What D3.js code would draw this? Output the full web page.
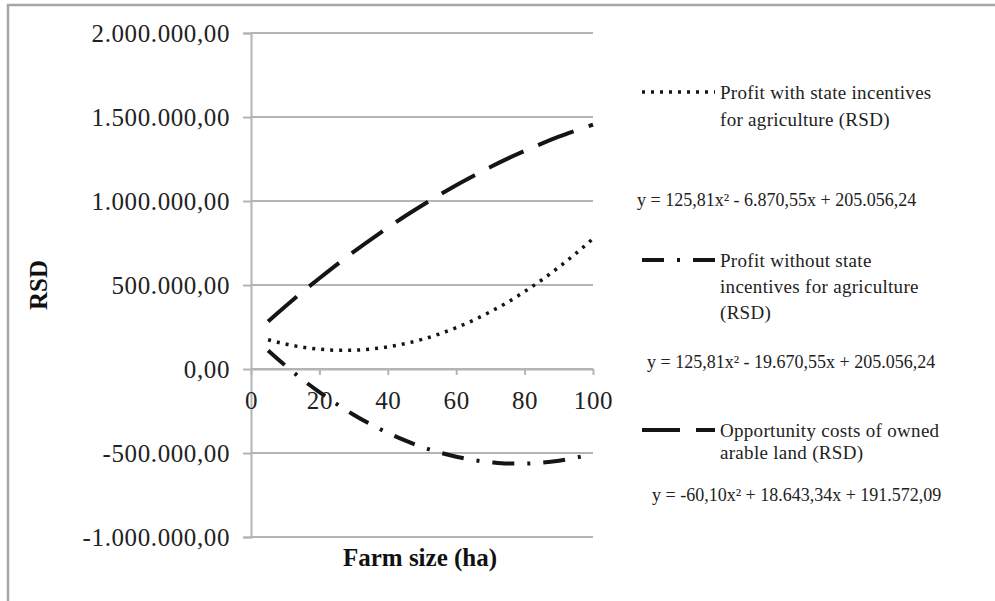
<!DOCTYPE html>
<html>
<head>
<meta charset="utf-8">
<script src="https://cdn.jsdelivr.net/npm/d3@7"></script>
<style>
    body { margin: 0; background: #fff; }
    svg { display: block; font-family: "Liberation Serif", "Times New Roman", serif; }
</style>
</head>
<body>
<div id="chart"></div>
<script>
// Farm size (ha) sample points
let farmSize = [5, 10, 15, 20, 25, 30, 35, 40, 45, 50, 55, 60, 65, 70, 75, 80, 85, 90, 95, 100]

let profitWith = [174000, 149000, 130000, 118000, 112000, 112000, 119000, 132000, 151000, 176000,
    208000, 246000, 290000, 341000, 397000, 461000, 530000, 606000, 688000, 776000]

let profitWithout = [110000, 21000, -62000, -138000, -208000, -272000, -329000, -380000, -425000, -464000,
    -496000, -522000, -542000, -555000, -563000, -563000, -558000, -546000, -528000, -504000]

let opportunityCosts = [283000, 372000, 458000, 540000, 620000, 697000, 770000, 841000, 909000, 973000,
    1035000, 1094000, 1149000, 1202000, 1252000, 1298000, 1342000, 1383000, 1420000, 1455000]

let xTicks = [0, 20, 40, 60, 80, 100]
let yTicks = [-1000000, -500000, 0, 500000, 1000000, 1500000, 2000000]

let seriesNames = [
    ['Profit with state incentives', 'for agriculture (RSD)'],
    ['Profit without state', 'incentives for agriculture', '(RSD)'],
    ['Opportunity costs of owned', 'arable land (RSD)']
]
let equations = [
    'y = 125,81x² - 6.870,55x + 205.056,24',
    'y = 125,81x² - 19.670,55x + 205.056,24',
    'y = -60,10x² + 18.643,34x + 191.572,09'
]

let svgWidth = 995
let svgHeight = 601
let plot = { left: 251, right: 593, top: 33, bottom: 537 }
let gridColor = '#b4b4b4'
let lineColor = '#151515'

let svg = d3.select('#chart')
    .append('svg')
    .attr('width', svgWidth)
    .attr('height', svgHeight)

// outer frame (only top and left edges are visible)
svg.append('path')
    .attr('d', `M8,${svgHeight} L8,5 L${svgWidth},5`)
    .attr('fill', 'none')
    .attr('stroke', '#a6a6a6')
    .attr('stroke-width', 2.5)

let x = d3.scaleLinear().domain([0, 100]).range([plot.left, plot.right])
let y = d3.scaleLinear().domain([-1000000, 2000000]).range([plot.bottom, plot.top])

let locale = d3.formatLocale({ decimal: ',', thousands: '.', grouping: [3], currency: ['', ''], minus: '-' })
let fmt = locale.format(',.2f')

// horizontal gridlines
svg.append('g')
    .selectAll('line')
    .data(yTicks)
    .enter()
    .append('line')
    .attr('x1', plot.left)
    .attr('x2', plot.right)
    .attr('y1', d => y(d))
    .attr('y2', d => y(d))
    .attr('stroke', gridColor)
    .attr('stroke-width', 2)

// y axis
let yAxis = svg.append('g')
    .attr('transform', `translate(${plot.left},0)`)
    .call(d3.axisLeft(y).tickValues(yTicks).tickFormat(fmt).tickSize(8).tickPadding(13))
yAxis.select('.domain').attr('stroke', gridColor).attr('stroke-width', 2)
yAxis.selectAll('.tick line').attr('stroke', gridColor).attr('stroke-width', 2)
yAxis.selectAll('text')
    .attr('font-family', '"Liberation Serif", serif')
    .attr('font-size', 25)
    .attr('letter-spacing', 0.6)
    .attr('fill', '#222')

// x axis along y = 0
let xAxis = svg.append('g')
    .attr('transform', `translate(0,${y(0)})`)
    .call(d3.axisBottom(x).tickValues(xTicks).tickSize(6).tickPadding(16).tickSizeOuter(0))
xAxis.select('.domain').attr('stroke', gridColor).attr('stroke-width', 2)
xAxis.selectAll('.tick line').attr('stroke', gridColor).attr('stroke-width', 2)
xAxis.selectAll('text')
    .attr('font-family', '"Liberation Serif", serif')
    .attr('font-size', 25)
    .attr('letter-spacing', 0.6)
    .attr('fill', '#222')

// axis titles
svg.append('text')
    .attr('transform', `translate(47, ${(plot.top + plot.bottom) / 2}) rotate(-90)`)
    .attr('text-anchor', 'middle')
    .attr('font-size', 25)
    .attr('font-weight', 'bold')
    .attr('fill', '#111')
    .text('RSD')

svg.append('text')
    .attr('x', 420)
    .attr('y', 566)
    .attr('text-anchor', 'middle')
    .attr('font-size', 25)
    .attr('font-weight', 'bold')
    .attr('fill', '#111')
    .text('Farm size (ha)')

let styles = [
    { dash: '3,6', width: 3.5 },
    { dash: '22,13,3,13', width: 4 },
    { dash: '38,16', width: 4 }
]

let series = [profitWith, profitWithout, opportunityCosts]

let line = d3.line()
    .x((d, i) => x(farmSize[i]))
    .y(d => y(d))
    .curve(d3.curveMonotoneX)

series.forEach((values, k) => {
    svg.append('path')
        .datum(values)
        .attr('d', line)
        .attr('fill', 'none')
        .attr('stroke', lineColor)
        .attr('stroke-width', styles[k].width)
        .attr('stroke-dasharray', styles[k].dash)
})

// legend
let legendRows = [92, 260, 430]
let legendLineHeights = [27, 26, 22]
let eqPos = [[637, 206], [647, 368], [652, 501]]

legendRows.forEach((ly, k) => {
    svg.append('line')
        .attr('x1', 642)
        .attr('x2', 715)
        .attr('y1', ly)
        .attr('y2', ly)
        .attr('stroke', lineColor)
        .attr('stroke-width', styles[k].width)
        .attr('stroke-dasharray', styles[k].dash)

    let t = svg.append('text')
        .attr('font-size', 19)
        .attr('letter-spacing', 0.3)
        .attr('fill', '#222')
    seriesNames[k].forEach((s, j) => {
        t.append('tspan')
            .attr('x', 720)
            .attr('y', ly + 7 + j * legendLineHeights[k])
            .text(s)
    })

    svg.append('text')
        .attr('x', eqPos[k][0])
        .attr('y', eqPos[k][1])
        .attr('font-size', 18)
        .attr('fill', '#222')
        .text(equations[k])
})
</script>
</body>
</html>
